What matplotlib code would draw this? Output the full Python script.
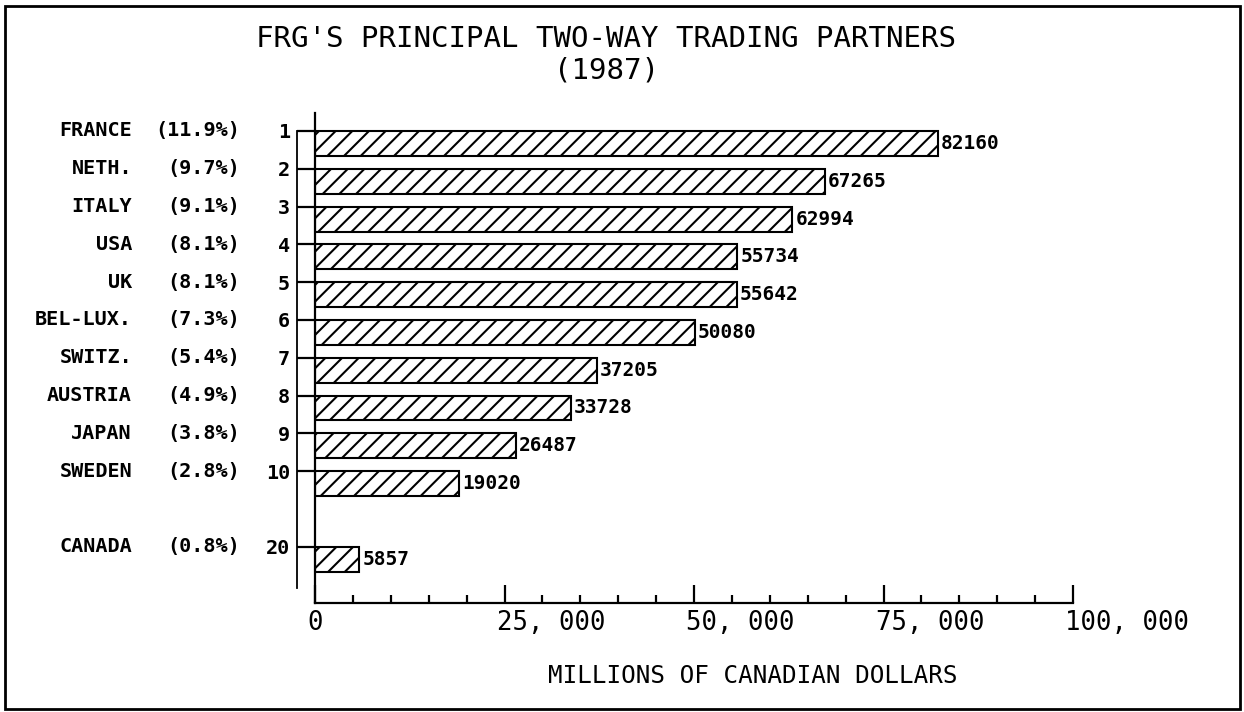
import matplotlib.pyplot as plt
from matplotlib.patches import Rectangle
from matplotlib.lines import Line2D
from matplotlib.ticker import MultipleLocator

# data
countries = ['FRANCE', 'NETH.', 'ITALY', 'USA', 'UK', 'BEL-LUX.', 'SWITZ.',
             'AUSTRIA', 'JAPAN', 'SWEDEN', 'CANADA']
shares = ['(11.9%)', '(9.7%)', '(9.1%)', '(8.1%)', '(8.1%)', '(7.3%)', '(5.4%)',
          '(4.9%)', '(3.8%)', '(2.8%)', '(0.8%)']
ranks = ['1', '2', '3', '4', '5', '6', '7', '8', '9', '10', '20']
values = [82160, 67265, 62994, 55734, 55642, 50080, 37205, 33728, 26487, 19020, 5857]
slots = [0, 1, 2, 3, 4, 5, 6, 7, 8, 9, 11]   # Canada sits after a gap
xticks = [0, 25000, 50000, 75000, 100000]
xticklabels = ['0', '25, 000', '50, 000', '75, 000', '100, 000']

mono = 'DejaVu Sans Mono'
plt.rcParams['hatch.linewidth'] = 1.5

fig = plt.figure(figsize=(12.44, 7.12), dpi=100)
W, H = 1244, 712
ax = fig.add_axes([315 / W, 1 - 603 / H, (1073 - 315) / W, (603 - 113) / H])

ax.barh(slots, values, height=0.66, align='edge', color='white',
        edgecolor='black', linewidth=1.5, hatch='//')

ax.set_xlim(0, 100000)
ax.set_ylim(12.49, -0.476)

for s in ['top', 'right']:
    ax.spines[s].set_visible(False)
for s in ['left', 'bottom']:
    ax.spines[s].set_linewidth(1.6)

# x axis: ticks point up, labels placed by hand (plotter style, left aligned)
ax.set_xticks(xticks)
ax.set_xticklabels([])
ax.xaxis.set_minor_locator(MultipleLocator(5000))
ax.tick_params(axis='x', which='major', direction='in', length=13, width=1.6)
ax.tick_params(axis='x', which='minor', direction='in', length=5.5, width=1.6)
for v, lbl in zip(xticks, xticklabels):
    ax.annotate(lbl, xy=(v, 0), xycoords=('data', 'axes fraction'),
                xytext=(-8, -20), textcoords='offset pixels',
                ha='left', va='center', fontsize=18.5, family=mono)

# y axis: rank numbers as tick labels
ax.set_yticks(slots)
ax.set_yticklabels(ranks, family=mono, fontsize=14.5, fontweight='bold')
ax.tick_params(axis='y', direction='out', length=13, width=1.6, pad=5)

# country names and shares
for s, c, p in zip(slots, countries, shares):
    ax.annotate(c, xy=(0, s), xycoords=('axes fraction', 'data'),
                xytext=(-183, 0), textcoords='offset pixels',
                ha='right', va='center', fontsize=14.5, fontweight='bold', family=mono)
    ax.annotate(p, xy=(0, s), xycoords=('axes fraction', 'data'),
                xytext=(-75, 0), textcoords='offset pixels',
                ha='right', va='center', fontsize=14.5, fontweight='bold', family=mono)

# value labels at the bar ends
for s, v in zip(slots, values):
    ax.annotate(str(v), xy=(v, s + 0.33), xytext=(3, 0), textcoords='offset pixels',
                ha='left', va='center', fontsize=14, fontweight='bold', family=mono)

# extra plotter line joining the rank ticks
ax.add_line(Line2D([-18 / 758, -18 / 758], [0, 12.1], color='black', linewidth=1.3,
                   transform=ax.get_yaxis_transform(), clip_on=False))

fig.text(606 / W, 1 - 39 / H, "FRG'S PRINCIPAL TWO-WAY TRADING PARTNERS",
         ha='center', va='center', fontsize=21, family=mono)
fig.text(606 / W, 1 - 71 / H, '(1987)', ha='center', va='center', fontsize=21, family=mono)
fig.text(753 / W, 1 - 676 / H, 'MILLIONS OF CANADIAN DOLLARS',
         ha='center', va='center', fontsize=17.5, family=mono)

# page border
fig.add_artist(Rectangle((5 / W, 3 / H), 1235 / W, 703 / H, transform=fig.transFigure,
                         fill=False, edgecolor='black', linewidth=2))

fig.savefig('out.png', dpi=100)
